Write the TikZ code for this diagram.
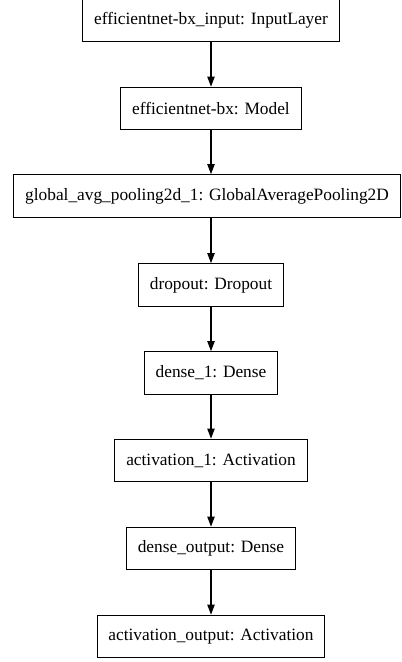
\documentclass[tikz,border=0pt]{standalone}
\usepackage{fontspec}
\setmainfont{Liberation Serif}
\usetikzlibrary{arrows.meta, positioning}

\begin{document}
\begin{tikzpicture}[>={Triangle[length=7.5pt,width=5.5pt]}, x=0.75pt, y=-0.75pt]

                \tikzset{% style of the layer boxes
                    layer/.style={rectangle,draw,line width=0.8pt,minimum height=32pt,
                                        inner xsep=8.5pt,font=\fontsize{13}{15}\selectfont}}

                    \useasboundingbox (0,0) rectangle (402,662);

                    \node [layer](input) at (211,20.5) {efficientnet-bx\_input: InputLayer};
                    \node [layer](model) at (211,108.5) {efficientnet-bx: Model};
                    \node [layer](pool) at (207,196) {global\_avg\_pooling2d\_1: GlobalAveragePooling2D};
                    \node [layer](drop) at (211,285) {dropout: Dropout};
                    \node [layer](dense1) at (211,373) {dense\_1: Dense};
                    \node [layer](act1) at (211,460.5) {activation\_1: Activation};
                    \node [layer](denseout) at (211,548.5) {dense\_output: Dense};
                    \node [layer](actout) at (211,636.5) {activation\_output: Activation};

                    \draw [->,line width=0.8pt] (input) -- (model);
                    \draw [->,line width=0.8pt] (model) -- (pool.north -| model);
                    \draw [->,line width=0.8pt] (pool.south -| drop) -- (drop);
                    \draw [->,line width=0.8pt] (drop) -- (dense1);
                    \draw [->,line width=0.8pt] (dense1) -- (act1);
                    \draw [->,line width=0.8pt] (act1) -- (denseout);
                    \draw [->,line width=0.8pt] (denseout) -- (actout);

            \end{tikzpicture}
\end{document}
